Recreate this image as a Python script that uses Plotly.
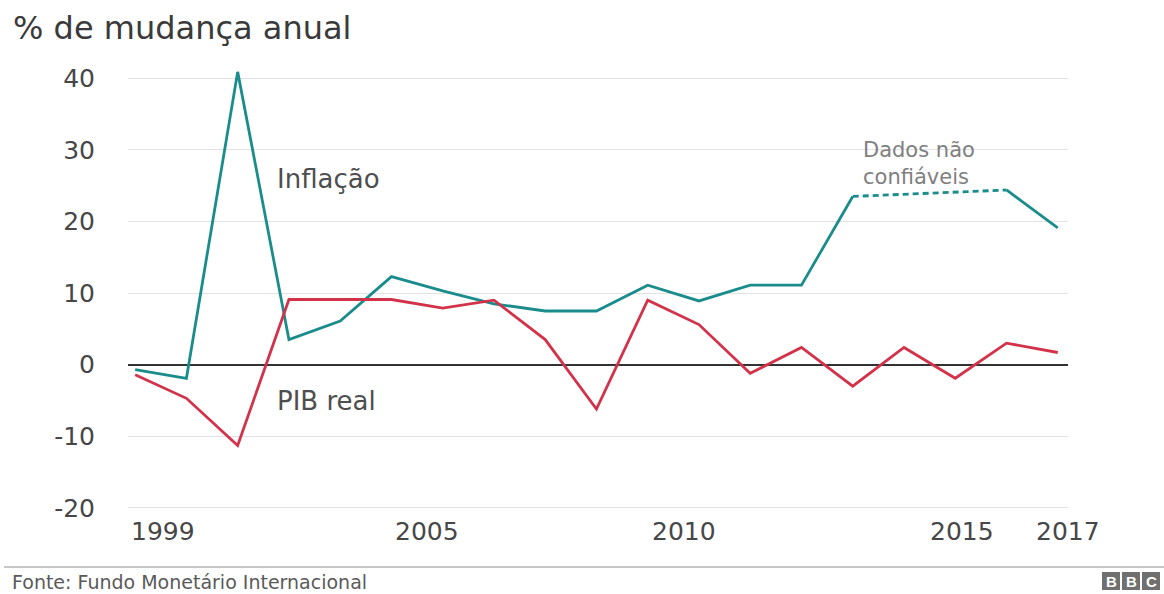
import plotly.graph_objects as go

# Annual % change, 1999-2017
years = list(range(1999, 2018))
inflacao = [-0.7, -1.9, 40.9, 3.5, 6.1, 12.3, 10.3, 8.5, 7.5, 7.5, 11.1, 8.9,
            11.1, 11.1, 23.5, None, None, 24.4, 19.1]
pib_real = [-1.4, -4.7, -11.3, 9.1, 9.1, 9.1, 7.9, 9.0, 3.5, -6.2, 9.0, 5.6,
            -1.2, 2.4, -3.0, 2.4, -1.9, 3.0, 1.7]
y_ticks = [-20, -10, 0, 10, 20, 30, 40]
x_tick_years = [1999, 2005, 2010, 2015, 2017]

# years whose inflation figure is flagged as unreliable (drawn dashed between them)
unreliable_from, unreliable_to = 2013, 2016

W, H = 1164, 594
L, R, T, B = 128, 96, 64, 79
PW, PH = W - L - R, H - T - B

TEAL = "#1b8c8c"
RED = "#d2334b"
FONT = "DejaVu Sans"


def px_x(px):
    return (px - L) / PW


def px_y(py):
    return (H - B - py) / PH


fig = go.Figure()

fig.add_trace(go.Scatter(
    x=years, y=inflacao, mode="lines", connectgaps=False,
    line=dict(color=TEAL, width=2.8), hoverinfo="x+y", name="Inflação"))

i0, i1 = years.index(unreliable_from), years.index(unreliable_to)
fig.add_trace(go.Scatter(
    x=[years[i0], years[i1]], y=[inflacao[i0], inflacao[i1]], mode="lines",
    line=dict(color=TEAL, width=2.8, dash="6px,4px"), hoverinfo="skip",
    name="Dados não confiáveis"))

fig.add_trace(go.Scatter(
    x=years, y=pib_real, mode="lines",
    line=dict(color=RED, width=2.8), hoverinfo="x+y", name="PIB real"))

annotations = []

# x-axis year labels
x_label_shift = [28, -16, -15, 7, 10]
for yr, sh in zip(x_tick_years, x_label_shift):
    annotations.append(dict(
        x=yr, xref="x", y=px_y(531), yref="paper", xshift=sh,
        text=str(yr), showarrow=False, xanchor="center", yanchor="middle",
        font=dict(family=FONT, size=25, color="#474747")))

# title
annotations.append(dict(
    x=px_x(11), xref="paper", y=px_y(28), yref="paper",
    text="% de mudança anual", showarrow=False, xanchor="left", yanchor="middle",
    font=dict(family=FONT, size=32, color="#3a3a3a")))

# series labels
annotations.append(dict(
    x=px_x(275), xref="paper", y=px_y(179), yref="paper",
    text="Inflação", showarrow=False, xanchor="left", yanchor="middle",
    font=dict(family=FONT, size=26, color="#4e4e4e")))
annotations.append(dict(
    x=px_x(275), xref="paper", y=px_y(401), yref="paper",
    text="PIB real", showarrow=False, xanchor="left", yanchor="middle",
    font=dict(family=FONT, size=26, color="#4e4e4e")))
annotations.append(dict(
    x=px_x(861), xref="paper", y=px_y(163), yref="paper",
    text="Dados não<br>confiáveis", showarrow=False, align="left",
    xanchor="left", yanchor="middle",
    font=dict(family=FONT, size=21, color="#808080")))

# footer
annotations.append(dict(
    x=px_x(10), xref="paper", y=px_y(582), yref="paper",
    text="Fonte: Fundo Monetário Internacional", showarrow=False,
    xanchor="left", yanchor="middle",
    font=dict(family=FONT, size=19, color="#5a5a5a")))

shapes = [dict(type="line", xref="paper", yref="paper",
               x0=px_x(4), x1=px_x(1164), y0=px_y(567), y1=px_y(567),
               line=dict(color="#b4b4b4", width=1.5))]

# BBC blocks
for k, letter in enumerate("BBC"):
    x0 = 1102 + 20 * k
    shapes.append(dict(type="rect", xref="paper", yref="paper",
                       x0=px_x(x0), x1=px_x(x0 + 18),
                       y0=px_y(590), y1=px_y(572),
                       fillcolor="#707070", line=dict(width=0)))
    annotations.append(dict(
        x=px_x(x0 + 9), xref="paper", y=px_y(581.5), yref="paper",
        text="<b>%s</b>" % letter, showarrow=False,
        xanchor="center", yanchor="middle",
        font=dict(family="Liberation Sans", size=15, color="#ffffff")))

fig.update_layout(
    width=W, height=H,
    margin=dict(l=L, r=R, t=T, b=B, pad=0),
    paper_bgcolor="white", plot_bgcolor="white",
    showlegend=False,
    annotations=annotations, shapes=shapes,
    xaxis=dict(range=[1998.86, 2017.2], showgrid=False, zeroline=False,
               showticklabels=False, ticks="", showline=False, fixedrange=True),
    yaxis=dict(range=[-21, 42], tickvals=y_ticks, ticktext=[str(v) for v in y_ticks],
               showgrid=True, gridcolor="#e2e2e2", gridwidth=1.2,
               zeroline=True, zerolinecolor="#333333", zerolinewidth=2,
               showline=False, ticks="", ticklabelstandoff=32,
               tickfont=dict(family=FONT, size=25, color="#474747"),
               fixedrange=True),
)

fig.write_html("out.html")
